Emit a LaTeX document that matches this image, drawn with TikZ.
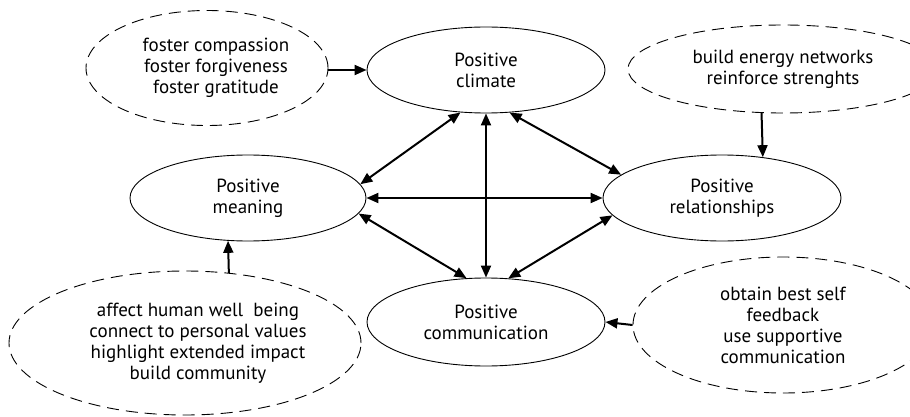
\documentclass[tikz,border=0pt]{standalone}
\usepackage{fontspec}
\setmainfont{PT Sans}
\usetikzlibrary{shapes.geometric}
\usetikzlibrary{arrows.meta}

\begin{document}
\begin{tikzpicture}[x=1pt,y=-1pt,
    words/.style={align=center,font=\fontsize{19}{21}\selectfont},
    area/.style={draw,ellipse,inner sep=0pt,line width=0.9pt,words},
    idea/.style={area,dash pattern=on 12pt off 7pt},
    link/.style={line width=2pt,-{Triangle[length=12pt,width=10pt]}},
    both/.style={line width=2pt,{Triangle[length=12pt,width=10pt]}-{Triangle[length=12pt,width=10pt]}}]
    \clip (0,0) rectangle (910,417);
    \node[area,minimum width=238,minimum height=86] (clim) at (486,70) {Positive\\climate};
    \node[area,minimum width=236,minimum height=86] (mean) at (248,198) {Positive\\meaning};
    \node[area,minimum width=238,minimum height=86] (rel) at (722,198) {Positive\\relationships};
    \node[area,minimum width=238,minimum height=88] (comm) at (486,322) {Positive\\communication};
    \node[idea,minimum width=242,minimum height=115,
      label={[words,xshift=9pt]center:{foster compassion\\foster forgiveness\\foster gratitude}}] (tl) at (207,68) {};
    \node[idea,minimum width=310,minimum height=88] (tr) at (783,69) {build energy networks\\reinforce strenghts};
    \node[idea,minimum width=352,minimum height=144,
      label={[words,xshift=13pt]center:{affect human well\ \ being\\connect to personal values\\highlight extended impact\\build community}}] (bl) at (185,343) {};
    \node[idea,minimum width=300,minimum height=136] (br) at (783,325) {obtain best self\\feedback\\use supportive\\communication};
    \draw[both] (clim.-121) -- (mean.7.5);
    \draw[both] (clim.-61) -- (rel.167.5);
    \draw[both] (clim.south) -- (comm.north);
    \draw[both] (mean.east) -- (rel.west);
    \draw[both] (mean.-8.5) -- (comm.114);
    \draw[both] (rel.189.5) -- (comm.63.4);
    \draw[link] (tl.east |- clim.west) -- (clim.west);
    \draw[link] (tr.244) -- (rel.45);
    \draw[link] (bl.58) -- (mean.245);
    \draw[link] (br.west) -- (comm.east);
\end{tikzpicture}
\end{document}
